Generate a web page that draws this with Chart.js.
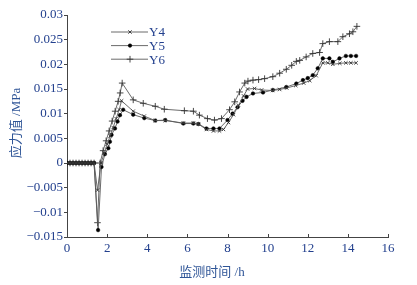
<!DOCTYPE html>
<html>
<head>
<meta charset="utf-8">
<script src="https://cdn.jsdelivr.net/npm/chart.js@4"></script>
<style>
html,body{margin:0;padding:0;background:#fff;}
#wrap{width:417px;height:285px;position:relative;}
</style>
</head>
<body>
<div id="wrap"><canvas id="c" width="417" height="285"></canvas></div>
<script>
// ---- data ----
const seriesNames = ["Y4", "Y5", "Y6"];
const xTickLabels = ["0","2","4","6","8","10","12","14","16"];
const yTickLabels = ["−0.015","−0.01","−0.005","0","0.005","0.01","0.015","0.02","0.025","0.03"];

const y4Times = [0,0.15,0.3,0.45,0.6,0.75,0.9,1.05,1.2,1.35,1.52,1.7,1.85,2.0,2.15,2.3,2.45,2.6,2.72,3.3,3.85,4.4,4.9,5.8,6.3,6.55,6.95,7.3,7.6,7.8,8.05,8.3,8.55,8.8,9.0,9.35,9.7,10.25,10.6,10.95,11.4,11.8,12.1,12.42,12.75,13.0,13.25,13.6,13.9,14.15,14.41];
const y4Values = [0,0,0,0,0,0,0,0,0,0,-0.0055,0,0.002,0.0038,0.0055,0.0072,0.009,0.0108,0.0126,0.0105,0.0095,0.0086,0.0086,0.0081,0.0081,0.0079,0.0068,0.0065,0.0065,0.0068,0.0082,0.0098,0.0117,0.0136,0.015,0.0151,0.0148,0.0147,0.0149,0.0152,0.0157,0.0162,0.0167,0.0177,0.0203,0.0203,0.02,0.0202,0.0203,0.0203,0.0203];

const y5Times = [0,0.15,0.3,0.45,0.6,0.75,0.9,1.05,1.2,1.35,1.55,1.72,1.89,2.06,2.14,2.22,2.39,2.52,2.64,2.8,3.3,3.85,4.4,4.9,5.8,6.3,6.55,6.95,7.3,7.6,8.0,8.25,8.5,8.75,8.95,9.27,9.77,10.26,10.93,11.43,11.76,12.0,12.25,12.5,12.75,13.08,13.25,13.58,13.9,14.15,14.41];
const y5Values = [0,0,0,0,0,0,0,0,0,0,-0.0136,-0.0008,0.0018,0.003,0.0043,0.0057,0.007,0.0084,0.0097,0.0108,0.0098,0.0091,0.0086,0.0087,0.008,0.008,0.0079,0.007,0.007,0.007,0.0087,0.01,0.0113,0.0126,0.0134,0.0141,0.0143,0.0148,0.0154,0.0161,0.0168,0.0172,0.0178,0.0192,0.0212,0.0212,0.0205,0.0212,0.0217,0.0217,0.0217];

const y6Times = [0,0.15,0.3,0.45,0.6,0.75,0.9,1.05,1.2,1.35,1.52,1.65,1.8,1.95,2.1,2.25,2.4,2.55,2.65,2.75,3.3,3.8,4.4,4.85,5.85,6.3,6.6,7.0,7.35,7.7,8.1,8.36,8.6,8.86,9.02,9.27,9.55,9.85,10.26,10.6,10.93,11.2,11.43,11.6,11.92,12.25,12.59,12.75,13.08,13.5,13.75,14.08,14.25,14.45];
const y6Values = [0,0,0,0,0,0,0,0,0,0,-0.0121,0,0.0025,0.0045,0.0065,0.0085,0.0105,0.0125,0.0142,0.0162,0.0128,0.0121,0.0115,0.0109,0.0106,0.0105,0.0097,0.009,0.0087,0.009,0.0108,0.0124,0.0144,0.0162,0.0166,0.0168,0.0169,0.0171,0.0175,0.0182,0.019,0.0198,0.0206,0.0208,0.0215,0.0222,0.0224,0.0242,0.0246,0.0246,0.0256,0.0262,0.0266,0.0277];

// ---- build ----
const pairs = (t, v) => t.map((x, i) => ({x: x, y: v[i]}));
const lineColor = '#5a5a5a';
const textColor = '#23408e';
const titleColor = '#2f5597';
const serif = '"Liberation Serif", "Times New Roman", serif';

const datasets = [
  {label: seriesNames[0], data: pairs(y4Times, y4Values), pointStyle: 'crossRot', pointRadius: 2.4, pointBorderColor: '#333', pointBackgroundColor: '#333', pointBorderWidth: 0.9},
  {label: seriesNames[1], data: pairs(y5Times, y5Values), pointStyle: 'circle', pointRadius: 1.8, pointBorderColor: '#000', pointBackgroundColor: '#000', pointBorderWidth: 0.5},
  {label: seriesNames[2], data: pairs(y6Times, y6Values), pointStyle: 'cross', pointRadius: 3.3, pointBorderColor: '#333', pointBackgroundColor: '#333', pointBorderWidth: 0.9}
].map(d => Object.assign(d, {borderColor: lineColor, borderWidth: 0.9, tension: 0, fill: false, pointHoverRadius: d.pointRadius}));

const decor = {
  id: 'decor',
  afterDraw(chart) {
    const ctx = chart.ctx;
    const xs = chart.scales.x, ys = chart.scales.y;
    ctx.save();
    // inward x ticks
    ctx.strokeStyle = '#444';
    ctx.lineWidth = 1;
    xs.ticks.forEach(t => {
      const px = Math.round(xs.getPixelForValue(t.value)) + 0.5;
      ctx.beginPath();
      ctx.moveTo(px, ys.bottom);
      ctx.lineTo(px, ys.bottom - 3);
      ctx.stroke();
    });
    // legend: line + marker + text
    chart.data.datasets.forEach((ds, i) => {
      const y = 32 + i * 13.6;
      ctx.strokeStyle = ds.borderColor;
      ctx.lineWidth = ds.borderWidth;
      ctx.beginPath();
      ctx.moveTo(111, y);
      ctx.lineTo(148, y);
      ctx.stroke();
      ctx.strokeStyle = ds.pointBorderColor;
      ctx.fillStyle = ds.pointBackgroundColor;
      ctx.lineWidth = ds.pointBorderWidth;
      Chart.helpers.drawPoint(ctx, {pointStyle: ds.pointStyle, radius: ds.pointRadius, rotation: 0, borderWidth: ds.pointBorderWidth}, 130, y);
      ctx.fillStyle = textColor;
      ctx.font = '13px ' + serif;
      ctx.textBaseline = 'middle';
      ctx.textAlign = 'left';
      ctx.fillText(ds.label, 149, y + 1);
    });
    // axis titles
    ctx.fillStyle = titleColor;
    ctx.font = '13px "Liberation Serif", "Noto Sans CJK SC", serif';
    ctx.textAlign = 'center';
    ctx.textBaseline = 'middle';
    ctx.fillText('监测时间 /h', 212, 273);
    ctx.translate(17, 123);
    ctx.rotate(-Math.PI / 2);
    ctx.fillText('应力值 /MPa', 0, 0);
    ctx.restore();
  }
};

new Chart(document.getElementById('c'), {
  type: 'line',
  data: {datasets: datasets},
  options: {
    responsive: false,
    animation: false,
    events: [],
    layout: {padding: {left: 0, right: 29, top: 15, bottom: 0}},
    plugins: {legend: {display: false}, tooltip: {enabled: false}, title: {display: false}},
    scales: {
      x: {
        type: 'linear', min: 0, max: 16,
        afterFit: s => { s.height = 48; },
        grid: {drawOnChartArea: false, drawTicks: false},
        border: {display: true, color: '#444', width: 1},
        ticks: {stepSize: 2, padding: 4, color: textColor, font: {family: serif, size: 13},
          callback: (v, i) => xTickLabels[i]}
      },
      y: {
        min: -0.015, max: 0.03,
        afterFit: s => { s.width = 67; },
        grid: {drawOnChartArea: false, drawTicks: true, tickLength: 3, color: '#444'},
        border: {display: true, color: '#444', width: 1},
        ticks: {stepSize: 0.005, padding: 1, color: textColor, font: {family: serif, size: 13},
          callback: (v, i) => yTickLabels[i]}
      }
    }
  },
  plugins: [decor]
});
</script>
</body>
</html>
